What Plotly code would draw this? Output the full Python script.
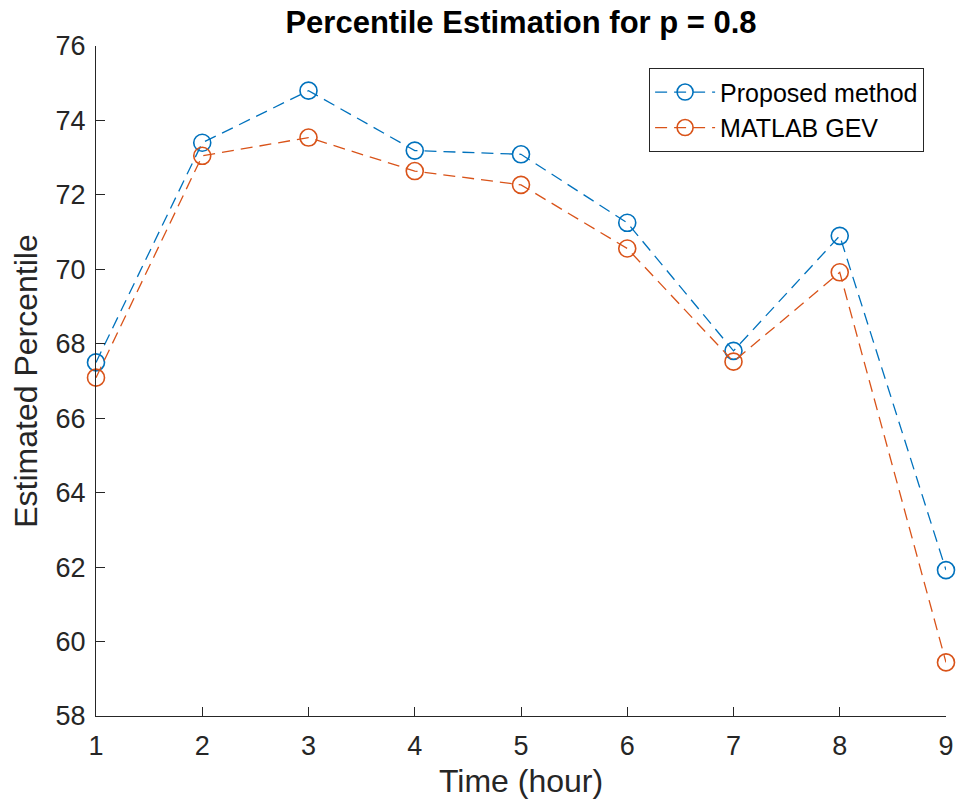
import plotly.graph_objects as go

hours = [1, 2, 3, 4, 5, 6, 7, 8, 9]
proposed = [67.50, 73.40, 74.80, 73.19, 73.09, 71.25, 67.81, 70.90, 61.92]
matlab_gev = [67.09, 73.05, 73.54, 72.64, 72.27, 70.56, 67.52, 69.92, 59.44]
y_ticks = [58, 60, 62, 64, 66, 68, 70, 72, 74, 76]

BLUE = "#0072BD"
ORANGE = "#D95319"
AX = "#262626"
FONT = "Liberation Sans, Arial, Helvetica, sans-serif"

fig = go.Figure()
for name, vals, col in [("Proposed method", proposed, BLUE), ("MATLAB GEV", matlab_gev, ORANGE)]:
    fig.add_trace(go.Scatter(
        x=hours, y=vals, name=name, mode="lines+markers",
        line=dict(color=col, width=1.3, dash="12px,7px"),
        marker=dict(symbol="circle-open", size=17, color=col, line=dict(width=1.6, color=col)),
        cliponaxis=False,
    ))

fig.update_layout(
    width=956, height=812,
    margin=dict(l=96, r=10, t=46, b=96, autoexpand=False),
    paper_bgcolor="white", plot_bgcolor="white",
    font=dict(family=FONT, color=AX, size=27),
    title=dict(text="<b>Percentile Estimation for p = 0.8</b>", x=0.545, xanchor="center",
               y=1 - 22 / 812, yanchor="middle", yref="container",
               font=dict(size=31, color="black", family=FONT)),
    showlegend=True,
    legend=dict(x=0.974, xanchor="right", y=0.967, yanchor="top",
                bordercolor=AX, borderwidth=1.2, bgcolor="white",
                font=dict(size=25, color="black", family=FONT),
                tracegroupgap=0, itemwidth=60),
)
fig.update_xaxes(
    range=[1, 9], tickvals=hours, ticks="inside", ticklen=9, tickcolor=AX,
    showline=True, linecolor=AX, linewidth=1.2, showgrid=False, zeroline=False,
    automargin=False,
    title=dict(text="Time (hour)", font=dict(size=32, color=AX), standoff=10),
    tickfont=dict(size=27, color=AX), ticklabelstandoff=5,
)
fig.update_yaxes(
    range=[58, 76], tickvals=y_ticks, ticks="inside", ticklen=9, tickcolor=AX,
    showline=True, linecolor=AX, linewidth=1.2, showgrid=False, zeroline=False,
    automargin=False,
    title=dict(text="Estimated Percentile", font=dict(size=32, color=AX), standoff=8),
    tickfont=dict(size=27, color=AX), ticklabelstandoff=4,
)

fig.write_html("out.html")
